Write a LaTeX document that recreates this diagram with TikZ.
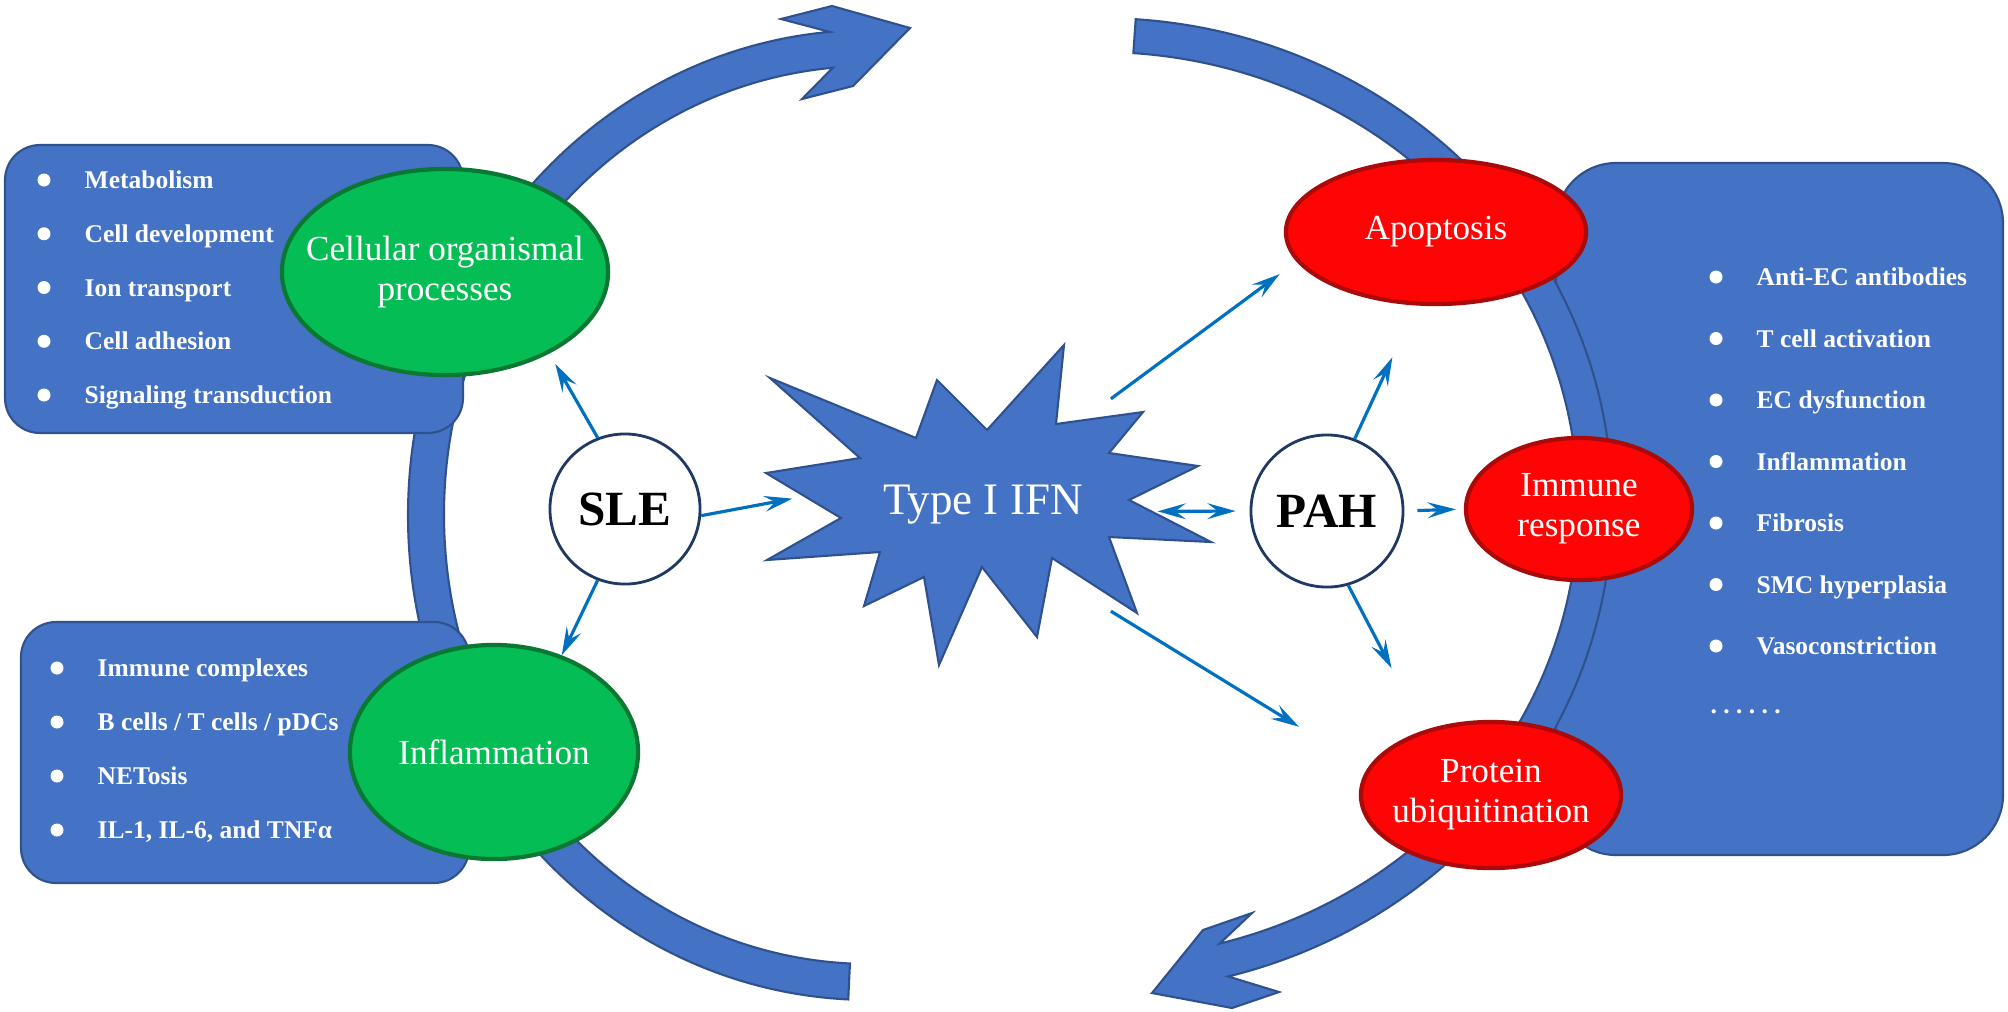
\documentclass[tikz,border=0pt]{standalone}
\usepackage{fontspec}
\setmainfont{Liberation Serif}
\usetikzlibrary{shapes.geometric,arrows.meta}
\definecolor{bandblue}{RGB}{68,114,196}
\definecolor{bandedge}{RGB}{47,82,143}
\definecolor{linkblue}{RGB}{0,112,192}
\definecolor{ringblue}{RGB}{32,56,100}
\definecolor{procgreen}{RGB}{5,189,85}
\definecolor{greenrim}{RGB}{10,120,50}
\definecolor{procred}{RGB}{255,4,4}
\definecolor{redrim}{RGB}{170,10,10}

\begin{document}
\begin{tikzpicture}[x=0.01cm,y=-0.01cm,
  band/.style={fill=bandblue,draw=bandedge,line width=0.6pt},
  listbox/.style={fill=bandblue,draw=bandedge,line width=0.6pt},
  greenproc/.style={ellipse,fill=procgreen,draw=greenrim,line width=1.2pt,inner sep=0pt},
  redproc/.style={ellipse,fill=procred,draw=redrim,line width=1.2pt,inner sep=0pt},
  proctext/.style={text=white,align=center,font=\fontsize{10}{11.4}\selectfont},
  disease/.style={circle,draw=ringblue,line width=0.8pt,fill=white,inner sep=0pt,font=\fontsize{14}{16}\selectfont\bfseries},
  link/.style={draw=linkblue,line width=0.9pt,-{Stealth[length=8pt,width=4.5pt,inset=3pt]}},
  item/.style={anchor=base west,text=white,inner sep=0pt,font=\fontsize{7.25}{9}\selectfont\bfseries}]
\newcommand{\gapleft}{53.75}
\newcommand{\gaplow}{54}
\newcommand{\gapright}{61.5}

\useasboundingbox (0,0) rectangle (2008,1011);
\fill[white] (0,0) rectangle (2008,1011);

% left cycle arrow
\coordinate (lc) at (870,515);
\filldraw[band] ([shift={(92.7:462 and 485)}]lc) arc[start angle=92.7,end angle=265,x radius=462,y radius=485]
  -- (781,19) -- (832,6) -- (910,28) -- (853,86) -- (802,99)
  -- ([shift={(265:426 and 449)}]lc) arc[start angle=265,end angle=92.7,x radius=426,y radius=449] -- cycle;

% list boxes
\filldraw[listbox,rounded corners=0.35cm] (5,145) rectangle (463,433);
\filldraw[listbox,rounded corners=0.35cm] (21,622) rectangle (469,883);
\filldraw[listbox,rounded corners=0.6cm] (1556,163) rectangle (2003,855);
\coordinate (rc) at (1100,505);
\begin{scope}
  \clip (1540,150) rectangle (2008,870);
  \fill[white] (rc) ellipse[x radius=478,y radius=453];
\end{scope}

% right cycle arrow
\filldraw[band] ([shift={(-86:512 and 487)}]rc) arc[start angle=-86,end angle=75.5,x radius=512,y radius=487]
  -- (1279,992) -- (1232,1008) -- (1152,993) -- (1203,930) -- (1252,913)
  -- ([shift={(75.5:478 and 453)}]rc) arc[start angle=75.5,end angle=-86,x radius=478,y radius=453] -- cycle;

% burst
\filldraw[band] (770,378) -- (916,438) -- (937,380) -- (987,430) -- (1064,345) -- (1056,424)
  -- (1143,412) -- (1109,453) -- (1198,466) -- (1129,500) -- (1211,542) -- (1109,537)
  -- (1137,613) -- (1052,558) -- (1037,637) -- (982,567) -- (939,665) -- (924,577)
  -- (864,606) -- (880,552) -- (767,560) -- (841,518) -- (766,473) -- (860,458) -- cycle;
\node[ellipse,minimum width=3.64cm,minimum height=3.16cm,inner sep=0pt,
  label={[text=white,font=\fontsize{12.8}{14}\selectfont,xshift=0.08cm]center:Type I IFN}] (ifn) at (975,505) {};

% processes
\node[greenproc,minimum width=3.26cm,minimum height=2.06cm,
  label={[proctext]center:{Cellular organismal\\processes}}] (cell) at (445,272) {};
\node[greenproc,minimum width=2.88cm,minimum height=2.14cm,
  label={[proctext]center:Inflammation}] (infl) at (494,752) {};
\node[redproc,minimum width=3.0cm,minimum height=1.44cm,
  label={[proctext]center:Apoptosis}] (apo) at (1436,232) {};
\node[redproc,minimum width=2.26cm,minimum height=1.42cm,
  label={[proctext]center:{Immune\\response}}] (imm) at (1579,509) {};
\node[redproc,minimum width=2.6cm,minimum height=1.46cm,
  label={[proctext]center:{Protein\\ubiquitination}}] (prot) at (1491,795) {};

% diseases
\node[disease,minimum size=1.5cm] (sle) at (625,509) {SLE};
\node[disease,minimum size=1.52cm] (pah) at (1327,511) {PAH};

% links
\draw[link,shorten >=0.12cm] (sle.111) -- (cell.-38);
\draw[link] (sle.-111) -- (infl.55);
\draw[link] (sle.-5) -- (ifn.178);
\draw[link,{Stealth[length=8pt,width=4.5pt,inset=3pt]}-{Stealth[length=8pt,width=4.5pt,inset=3pt]},shorten >=0.14cm] (ifn.-2) -- (pah.west);
\draw[link,shorten >=0.57cm] (pah.69) -- (apo.255);
\draw[link,shorten <=0.13cm,shorten >=0.08cm] (pah.east) -- (imm.west);
\draw[link,shorten >=0.7cm] (pah.-74) -- (prot.136);
\draw[link,shorten >=0.21cm] (ifn.38) -- (apo.192);
\draw[link,shorten >=0.8cm] (ifn.-38) -- (prot.168);

% lists
\foreach \txt [count=\i from 0] in {Metabolism,Cell development,Ion transport,Cell adhesion,Signaling transduction}{
  \fill[white] (44,180+\gapleft*\i) circle (6.5);
  \node[item] (cop\i) at (84,188.5+\gapleft*\i) {\txt};
}
\foreach \txt [count=\i from 0] in {Immune complexes,B cells / T cells / pDCs,NETosis,{IL-1, IL-6, and TNFα}}{
  \fill[white] (57,668+\gaplow*\i) circle (6.5);
  \node[item] (inf\i) at (97,676.5+\gaplow*\i) {\txt};
}
\foreach \txt [count=\i from 0] in {Anti-EC antibodies,T cell activation,EC dysfunction,Inflammation,Fibrosis,SMC hyperplasia,Vasoconstriction}{
  \fill[white] (1716,277+\gapright*\i) circle (6.5);
  \node[item] (pah\i) at (1756,285.5+\gapright*\i) {\txt};
}
\node[item] (pahmore) at (1710,713) {.~.~.~.~.~.};
\end{tikzpicture}
\end{document}
